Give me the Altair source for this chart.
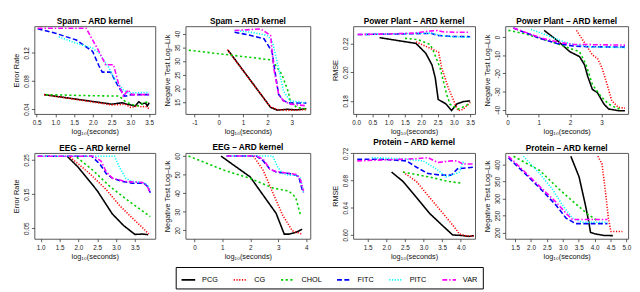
import altair as alt
import pandas as pd

methods = ["PCG", "CG", "CHOL", "FITC", "PITC", "VAR"]
colors = ["#000000", "#FF0000", "#00CD00", "#0000FF", "#00FFFF", "#FF00FF"]
dashes = [[1, 0], [1.2, 1.6], [2.2, 2.6], [5, 2.5], [1.2, 1.6], [5, 2, 1.5, 2]]

# ---- Spam: error rate ----
spam_err = {
    "PCG": ([0.70, 2.50, 2.78, 2.91, 3.04, 3.12, 3.22, 3.30, 3.40, 3.45, 3.50],
            [0.0606, 0.0470, 0.0490, 0.0469, 0.0455, 0.0440, 0.0505, 0.0475, 0.0485, 0.0445, 0.0490]),
    "CG": ([0.70, 2.50, 2.70, 2.85, 3.00, 3.10, 3.20, 3.30, 3.40, 3.50],
           [0.0606, 0.0460, 0.0462, 0.0470, 0.0425, 0.0432, 0.0450, 0.0430, 0.0440, 0.0405]),
    "CHOL": ([0.75, 1.50, 2.00, 2.70, 2.85, 3.00, 3.20, 3.37, 3.50],
             [0.0606, 0.0596, 0.0590, 0.0585, 0.0514, 0.0470, 0.0446, 0.0490, 0.0510]),
    "FITC": ([0.53, 1.00, 1.56, 1.99, 2.16, 2.25, 2.47, 2.68, 2.85, 3.03, 3.50],
             [0.1543, 0.1480, 0.1383, 0.1223, 0.1017, 0.0926, 0.0926, 0.0720, 0.0583, 0.0606, 0.0606]),
    "PITC": ([1.09, 1.56, 1.99, 2.16, 2.42, 2.59, 2.81, 2.94, 3.50],
             [0.1429, 0.1337, 0.1269, 0.1200, 0.0994, 0.0811, 0.0674, 0.0629, 0.0638]),
    "VAR": ([0.53, 1.82, 2.16, 2.34, 2.55, 2.68, 2.81, 2.94, 3.03, 3.50],
            [0.1552, 0.1552, 0.1223, 0.1031, 0.1031, 0.0766, 0.0583, 0.0674, 0.0606, 0.0606]),
}

# ---- Spam: negative test log-lik ----
spam_nll = {
    "PCG": ([0.38, 2.13, 2.40, 2.80, 3.20, 3.60], [34.0, 13.0, 12.0, 12.3, 12.1, 12.5]),
    "CG": ([0.35, 2.10, 2.40, 2.80, 3.20, 3.60], [34.2, 13.4, 12.2, 11.9, 12.0, 12.2]),
    "CHOL": ([-1.23, 2.19, 2.60, 2.87, 2.93, 3.20, 3.60], [34.0, 30.4, 25.0, 18.4, 15.4, 13.0, 12.4]),
    "FITC": ([0.65, 1.32, 1.86, 2.19, 2.33, 2.46, 2.66, 2.93, 3.60],
             [40.6, 39.4, 38.2, 33.4, 25.0, 17.8, 15.4, 14.6, 14.6]),
    "PITC": ([0.65, 1.32, 1.99, 2.19, 2.46, 2.66, 2.93, 3.60],
             [41.2, 40.6, 39.4, 37.6, 27.4, 19.0, 15.4, 14.6]),
    "VAR": ([0.65, 1.72, 2.13, 2.26, 2.46, 2.66, 2.93, 3.60],
            [41.2, 41.8, 39.4, 27.4, 17.8, 15.4, 14.2, 13.6]),
}

# ---- Power Plant: RMSE ----
pp_rmse = {
    "PCG": ([0.72, 1.84, 2.14, 2.33, 2.43, 2.52, 2.75, 2.93, 3.10, 3.30, 3.50],
            [0.2240, 0.2200, 0.2131, 0.2050, 0.1960, 0.1810, 0.1780, 0.1733, 0.1780, 0.1795, 0.1800]),
    "CG": ([1.84, 2.28, 2.53, 2.63, 2.83, 2.98, 3.13, 3.28, 3.50],
           [0.2211, 0.2165, 0.2140, 0.2028, 0.1890, 0.1810, 0.1732, 0.1740, 0.1790]),
    "CHOL": ([1.50, 1.90, 2.28, 2.38, 2.58, 2.73, 2.78, 2.88, 3.13, 3.37, 3.50],
             [0.2235, 0.2227, 0.2192, 0.2142, 0.2028, 0.1890, 0.1846, 0.1777, 0.1743, 0.1766, 0.1788]),
    "FITC": ([0.05, 1.00, 1.80, 2.30, 2.50, 3.00, 3.50],
             [0.2262, 0.2265, 0.2268, 0.2270, 0.2255, 0.2248, 0.2247]),
    "PITC": ([0.30, 1.00, 1.80, 2.30, 2.60, 3.00, 3.50],
             [0.2262, 0.2265, 0.2270, 0.2272, 0.2255, 0.2245, 0.2243]),
    "VAR": ([0.05, 1.00, 1.80, 2.20, 2.50, 2.70, 3.00, 3.50],
            [0.2262, 0.2266, 0.2272, 0.2285, 0.2290, 0.2280, 0.2278, 0.2278]),
}

# ---- Power Plant: negative test log-lik ----
pp_nll = {
    "PCG": ([1.17, 1.58, 1.99, 2.30, 2.46, 2.56, 2.71, 2.87, 3.08, 3.23, 3.54, 3.75],
            [3.6, -1.8, -8.1, -10.8, -15.3, -21.6, -28.8, -30.6, -36.9, -39.6, -40.5, -40.5]),
    "CG": ([2.20, 2.51, 2.71, 2.87, 3.02, 3.18, 3.33, 3.54, 3.75],
           [3.6, -4.5, -9.9, -11.7, -17.1, -26.1, -35.1, -38.7, -39.1]),
    "CHOL": ([0.03, 0.55, 1.06, 1.58, 1.99, 2.30, 2.51, 2.71, 2.97, 3.23, 3.44, 3.60],
             [3.6, 1.8, -0.9, -3.6, -6.3, -8.1, -15.3, -26.1, -32.4, -36.9, -38.7, -39.8]),
    "FITC": ([0.19, 1.06, 1.58, 2.10, 2.61, 3.75], [4.9, -0.9, -3.6, -5.0, -5.4, -5.6]),
    "PITC": ([0.75, 1.27, 1.79, 2.10, 2.61, 3.75], [4.1, 0.9, -2.7, -4.1, -5.4, -5.9]),
    "VAR": ([0.19, 1.06, 1.68, 2.10, 3.75], [4.9, -0.5, -3.1, -4.1, -4.5]),
}

# ---- EEG: error rate ----
eeg_err = {
    "PCG": ([1.70, 2.00, 2.50, 2.90, 3.20, 3.50, 3.70, 3.85],
            [0.261, 0.228, 0.160, 0.092, 0.058, 0.032, 0.033, 0.031]),
    "CG": ([1.78, 2.30, 2.74, 3.09, 3.43, 3.70, 3.87],
           [0.258, 0.210, 0.163, 0.117, 0.080, 0.052, 0.033]),
    "CHOL": ([1.96, 2.39, 2.83, 3.26, 3.61, 3.91], [0.258, 0.219, 0.173, 0.136, 0.108, 0.084]),
    "FITC": ([0.92, 2.35, 2.57, 2.74, 2.91, 3.17, 3.43, 3.74, 3.83, 3.91],
             [0.261, 0.261, 0.238, 0.210, 0.196, 0.187, 0.182, 0.182, 0.173, 0.154]),
    "PITC": ([0.92, 2.96, 3.09, 3.26, 3.43, 3.70, 3.83, 3.91],
             [0.261, 0.261, 0.229, 0.196, 0.187, 0.184, 0.177, 0.163]),
    "VAR": ([0.92, 2.40, 2.60, 2.74, 2.91, 3.26, 3.70, 3.83, 3.91],
            [0.261, 0.261, 0.247, 0.215, 0.196, 0.187, 0.184, 0.173, 0.154]),
}

# ---- EEG: negative test log-lik ----
eeg_nll = {
    "PCG": ([0.95, 1.99, 2.92, 3.21, 3.38, 3.62, 3.85], [60.0, 48.8, 29.1, 17.9, 17.9, 18.8, 20.5]),
    "CG": ([2.11, 2.46, 2.80, 3.15, 3.50, 3.85], [60.0, 52.3, 40.3, 28.2, 19.7, 17.9]),
    "CHOL": ([-0.21, 1.07, 1.99, 2.80, 3.38, 3.62, 3.79], [60.0, 52.3, 48.0, 42.8, 41.1, 37.7, 28.2]),
    "FITC": ([1.15, 2.22, 2.46, 2.69, 2.92, 3.38, 3.62, 3.73, 3.85, 3.90],
             [60.0, 60.0, 57.4, 53.1, 51.4, 50.6, 49.7, 48.8, 42.0, 40.3]),
    "PITC": ([1.15, 2.80, 2.98, 3.15, 3.38, 3.67, 3.79, 3.90],
             [60.0, 60.0, 54.0, 50.6, 49.7, 49.7, 48.0, 40.3]),
    "VAR": ([1.15, 2.22, 2.46, 2.69, 2.86, 3.27, 3.67, 3.79, 3.90],
            [60.0, 60.0, 58.3, 53.1, 51.9, 50.9, 50.0, 47.1, 41.1]),
}

# ---- Protein: RMSE ----
prot_rmse = {
    "PCG": ([2.14, 2.45, 2.81, 3.16, 3.52, 3.78, 4.05, 4.22, 4.35],
            [0.6926, 0.6786, 0.6552, 0.6318, 0.6131, 0.6000, 0.5991, 0.5977, 0.5990]),
    "CG": ([2.45, 2.81, 3.16, 3.52, 3.87, 3.96, 4.09, 4.35],
           [0.6926, 0.6786, 0.6552, 0.6318, 0.6084, 0.6014, 0.5991, 0.5980]),
    "CHOL": ([2.45, 3.12, 3.69, 4.00], [0.6926, 0.6856, 0.6786, 0.6763]),
    "FITC": ([1.22, 1.92, 2.54, 2.81, 3.12, 3.47, 3.74, 3.91, 4.35],
             [0.7113, 0.7113, 0.7090, 0.6997, 0.6903, 0.6880, 0.6880, 0.6973, 0.6997]),
    "PITC": ([1.61, 2.37, 2.99, 3.34, 3.60, 3.87, 3.96, 4.05, 4.13],
             [0.7137, 0.7123, 0.7090, 0.6973, 0.6856, 0.6903, 0.6926, 0.7067, 0.7057]),
    "VAR": ([1.22, 1.92, 2.81, 3.12, 3.38, 3.74, 3.91, 4.05, 4.35],
            [0.7090, 0.7104, 0.7123, 0.7137, 0.7067, 0.7090, 0.7090, 0.7043, 0.7043]),
}

# ---- Protein: negative test log-lik ----
prot_nll = {
    "PCG": ([3.25, 3.51, 3.71, 3.81, 3.87, 4.02, 4.30, 4.57],
            [425, 364, 280, 233, 200, 195.5, 191, 190.5]),
    "CG": ([4.10, 4.23, 4.33, 4.43, 4.51, 4.87], [425, 402, 327, 242, 203, 203]),
    "CHOL": ([1.45, 2.27, 2.89, 3.40, 3.81, 3.97, 4.07], [425, 383, 327, 284.6, 251.8, 242.4, 235]),
    "FITC": ([1.29, 1.76, 2.27, 2.79, 3.10, 3.40, 4.40], [420.6, 378.4, 331.5, 280, 242.4, 226, 226]),
    "PITC": ([1.76, 2.27, 2.68, 2.99, 3.30, 3.61, 4.40], [425, 373.7, 327, 280, 242.4, 230, 230]),
    "VAR": ([1.29, 1.76, 2.27, 2.79, 3.10, 3.30, 4.40], [425, 383, 336, 289, 256.5, 238, 238]),
}

FONT = "Liberation Sans"
XTITLE = "log\u2081\u2080(seconds)"
LEG = alt.Legend(
    title=None, orient="none", legendX=145, legendY=247, direction="horizontal", columns=6,
    gridAlign="each", symbolType="stroke", symbolSize=196, symbolStrokeWidth=1.8,
    labelFontSize=7.5, labelFont=FONT, labelColor="black", strokeColor="black",
    fillColor="white", padding=5, columnPadding=11.5, labelOffset=6,
)


def panel(data, title, ytitle, xdom, ydom, xticks, yticks, xfmt, yfmt, width, height):
    rows = []
    for m in methods:
        xs, ys = data[m]
        for i, (a, b) in enumerate(zip(xs, ys)):
            rows.append({"method": m, "x": a, "y": b, "i": i})
    df = pd.DataFrame(rows)
    return alt.Chart(df).mark_line(strokeWidth=1.6, clip=True).encode(
        x=alt.X("x:Q", scale=alt.Scale(domain=xdom, nice=False, zero=False),
                axis=alt.Axis(values=xticks, labelExpr=xfmt, title=XTITLE)),
        y=alt.Y("y:Q", scale=alt.Scale(domain=ydom, nice=False, zero=False),
                axis=alt.Axis(values=yticks, labelExpr=yfmt, title=ytitle,
                              labelAngle=270, labelAlign="center", labelBaseline="bottom")),
        color=alt.Color("method:N", scale=alt.Scale(domain=methods, range=colors), legend=LEG),
        strokeDash=alt.StrokeDash("method:N", scale=alt.Scale(domain=methods, range=dashes), legend=LEG),
        order="i:Q",
    ).properties(width=width, height=height, title=title)


F1 = "format(datum.value, '.1f')"
F2 = "format(datum.value, '.2f')"
FI = "'' + datum.value"
NLL = "Negative Test Log\u2013Lik"
H1, H2 = 90, 88

p1 = panel(spam_err, "Spam \u2013 ARD kernel", "Error Rate", [0.44, 3.66], [0.0331, 0.158],
           [0.5, 1.0, 1.5, 2.0, 2.5, 3.0, 3.5], [0.04, 0.08, 0.12], F1, F2, 124, H1)
p2 = panel(spam_nll, "Spam \u2013 ARD kernel", NLL, [-1.37, 3.76], [10.6, 42.8],
           [-1, 0, 1, 2, 3], [15, 20, 25, 30, 35, 40], FI, FI, 128, H1)
p3 = panel(pp_rmse, "Power Plant \u2013 ARD kernel", "RMSE", [-0.09, 3.65], [0.1709, 0.232],
           [0.0, 0.5, 1.0, 1.5, 2.0, 2.5, 3.0, 3.5], [0.18, 0.20, 0.22], F1, F2, 125, H1)
p4 = panel(pp_nll, "Power Plant \u2013 ARD kernel", NLL, [-0.07, 3.85], [-42.3, 5.9],
           [0, 1, 2, 3], [-40, -30, -20, -10, 0], FI, FI, 126, H1)
p5 = panel(eeg_err, "EEG \u2013 ARD kernel", "Error Rate", [0.83, 4.04], [0.0193, 0.2705],
           [1.0, 1.5, 2.0, 2.5, 3.0, 3.5], [0.05, 0.15, 0.25], F1, F2, 124, H2)
p6 = panel(eeg_nll, "EEG \u2013 ARD kernel", NLL, [-0.32, 4.14], [15.4, 61.7],
           [0, 1, 2, 3, 4], [20, 30, 40, 50, 60], FI, FI, 128, H2)
p7 = panel(prot_rmse, "Protein \u2013 ARD kernel", "RMSE", [1.11, 4.38], [0.5944, 0.7207],
           [1.5, 2.0, 2.5, 3.0, 3.5, 4.0], [0.60, 0.64, 0.68, 0.72], F1, F2, 125, H2)
p8 = panel(prot_nll, "Protein \u2013 ARD kernel", NLL, [1.19, 5.05], [181.4, 434.7],
           [1.5, 2.0, 2.5, 3.0, 3.5, 4.0, 4.5, 5.0], [200, 250, 300, 350, 400], F1, FI, 126, H2)

S_IN, S_OUT = 7, 20
row1 = alt.hconcat(alt.hconcat(p1, p2, spacing=S_IN), alt.hconcat(p3, p4, spacing=S_IN), spacing=S_OUT)
row2 = alt.hconcat(alt.hconcat(p5, p6, spacing=S_IN), alt.hconcat(p7, p8, spacing=S_IN), spacing=S_OUT)

chart = alt.vconcat(row1, row2, spacing=1).properties(
    padding={"left": 4, "top": 5, "right": 0, "bottom": 0}
).configure_view(
    stroke="#555555", strokeWidth=1
).configure_axis(
    domain=False, grid=False, tickColor="#333333", tickSize=3, tickWidth=0.8,
    labelFont=FONT, labelFontSize=6.5, labelColor="#222222", labelPadding=2,
    labelOverlap=False, labelFlush=False,
    titleFont=FONT, titleFontSize=7.5, titleFontWeight="normal", titleColor="#111111",
).configure_axisX(titlePadding=2, labelPadding=3).configure_axisY(titlePadding=3).configure_title(
    font=FONT, fontSize=8.5, fontWeight="bold", offset=1, color="black"
)

chart.save("out.html", embed_options={"renderer": "svg", "actions": False})
